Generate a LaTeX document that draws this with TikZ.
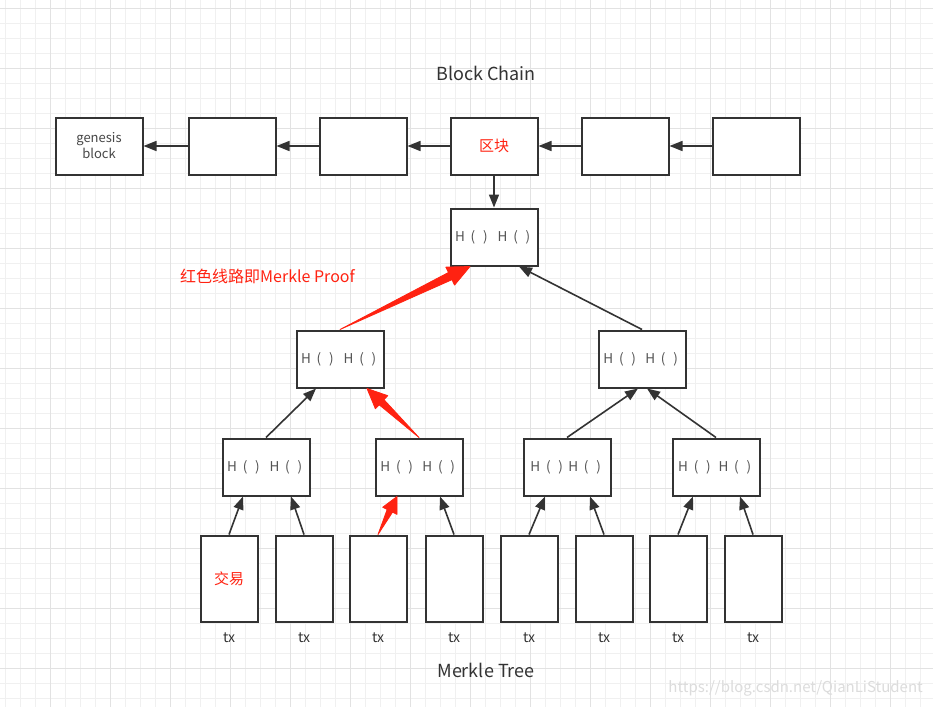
\documentclass[tikz,border=0pt]{standalone}
\usepackage{fontspec}
\setmainfont{Noto Sans CJK SC}
\usetikzlibrary{arrows.meta,calc}
\definecolor{dk}{HTML}{333333}
\definecolor{txtg}{HTML}{555555}
\definecolor{rd}{HTML}{FF2211}
\definecolor{gmin}{HTML}{F0F0F0}
\definecolor{gmaj}{HTML}{E2E2E2}
\definecolor{wmc}{HTML}{DCDCDC}
\newcommand{\redarr}[5]{%
  \path (#2) coordinate (rtip) ($(rtip)!#3!(#1)$) coordinate (rbase);
  \filldraw[rd,line width=0.8pt,line join=round] (#1) -- ($(rbase)!#5!90:(rtip)$) -- ($(rbase)!#4!90:(rtip)$) -- (rtip) -- ($(rbase)!#4!-90:(rtip)$) -- ($(rbase)!#5!-90:(rtip)$) -- cycle;}
\newcommand{\zc}[1]{\makebox[0pt][c]{#1}}
\newcommand{\hh}[1]{\zc{H}\hspace{13pt}\zc{(}\hspace{12.3pt}\zc{)}\hspace{#1}\zc{H}\hspace{13pt}\zc{(}\hspace{12.4pt}\zc{)}}
\begin{document}
\begin{tikzpicture}[x=1pt,y=-1pt,
  box/.style={draw=dk,line width=2pt,fill=white,minimum width=87pt,minimum height=57pt,inner sep=0pt,text=txtg,font=\fontsize{13.5}{16}\selectfont},
  txbox/.style={draw=dk,line width=2pt,fill=white,minimum width=57pt,minimum height=86pt,inner sep=0pt},
  arr/.style={draw=dk,line width=1.6pt,-{Triangle[length=13pt,width=10pt]}},
  redtxt/.style={text=rd,font=\fontsize{15}{17}\selectfont},
  txlbl/.style={text=dk,inner sep=0pt,font=\fontsize{14}{16}\selectfont},
  gridminor/.style={draw=gmin,line width=1pt},
  gridmajor/.style={draw=gmaj,line width=1pt}]
\useasboundingbox (0,0) rectangle (933,707);
\fill[white] (0,0) rectangle (933,707);
% grid
\foreach \i in {0,...,62} \draw[gridminor] ({5+15*\i},0) -- ({5+15*\i},707);
\foreach \i in {0,...,46} \draw[gridminor] (0,{8.3+15*\i}) -- (933,{8.3+15*\i});
\foreach \i in {0,...,14} \draw[gridmajor] ({50+60*\i},0) -- ({50+60*\i},707);
\foreach \i in {0,...,11} \draw[gridmajor] (0,{8.3+60*\i}) -- (933,{8.3+60*\i});
% titles
\node[text=dk,font=\fontsize{18}{20}\selectfont] (title) at (486,73) {Block Chain};
\node[text=dk,font=\fontsize{18}{20}\selectfont] (mtitle) at (486,670) {Merkle Tree};
\node[text=rd,font=\fontsize{16}{18}\selectfont,anchor=west,inner sep=0pt] (proof) at (180,276) {红色线路即Merkle Proof};
\node[text=wmc,font=\fontsize{15}{17}\selectfont,anchor=east,inner sep=0pt] (wm) at (923,688) {https://blog.csdn.net/QianLiStudent};
% chain
\node[box,align=center,text=dk!90,font=\fontsize{13}{16}\selectfont] (b1) at (99,146) {genesis\\block};
\node[box] (b2) at (232,146) {};
\node[box] (b3) at (363,146) {};
\node[box,redtxt] (b4) at (494,146) {区块};
\node[box] (b5) at (625,146) {};
\node[box] (b6) at (756,146) {};
\draw[arr] (b2) -- (b1);
\draw[arr] (b3) -- (b2);
\draw[arr] (b4) -- (b3);
\draw[arr] (b5) -- (b4);
\draw[arr] (b6) -- (b5);
% merkle tree
\node[box] (root) at (494,237) {\hh{17.3pt}};
\node[box] (l2a) at (340,359) {\hh{17.3pt}};
\node[box] (l2b) at (642,359) {\hh{16.5pt}};
\node[box] (l3a) at (266,467) {\hh{17pt}};
\node[box] (l3b) at (419,467) {\hh{16.7pt}};
\node[box] (l3c) at (567,467) {\hh{12.5pt}};
\node[box] (l3d) at (716,467) {\hh{15pt}};
\node[txbox,redtxt] (t1) at (229,578.5) {交易};
\node[txbox] (t2) at (304,578.5) {};
\node[txbox] (t3) at (378,578.5) {};
\node[txbox] (t4) at (454,578.5) {};
\node[txbox] (t5) at (529,578.5) {};
\node[txbox] (t6) at (604,578.5) {};
\node[txbox] (t7) at (678,578.5) {};
\node[txbox] (t8) at (753,578.5) {};
\foreach \t in {1,...,8} \node[txlbl] (lb\t) at ($(t\t.south)+(0,15)$) {tx};
\draw[arr] (b4) -- (root);
% level 2 -> root
\coordinate (rt1) at ($(root.south)+(-24,0)$);
\redarr{l2a.north}{rt1}{22pt}{10pt}{4pt}
\draw[arr] (l2b.north) -- ($(root.south)+(25,0)$);
% level 3 -> level 2
\draw[arr] (l3a.north) -- ($(l2a.south)+(-24,0)$);
\coordinate (rt2) at ($(l2a.south)+(27,0)$);
\redarr{l3b.north}{rt2}{20pt}{9pt}{3.5pt}
\draw[arr] (l3c.north) -- ($(l2b.south)+(-4,0)$);
\draw[arr] (l3d.north) -- ($(l2b.south)+(5,0)$);
% tx -> level 3
\draw[arr] (t1.north) -- ($(l3a.south)+(-23,0)$);
\draw[arr] (t2.north) -- ($(l3a.south)+(25,0)$);
\coordinate (rt3) at ($(l3b.south)+(-22,0)$);
\redarr{t3.north}{rt3}{16pt}{8pt}{3pt}
\draw[arr] (t4.north) -- ($(l3b.south)+(21,0)$);
\draw[arr] (t5.north) -- ($(l3c.south)+(-22,0)$);
\draw[arr] (t6.north) -- ($(l3c.south)+(23,0)$);
\draw[arr] (t7.north) -- ($(l3d.south)+(-23,0)$);
\draw[arr] (t8.north) -- ($(l3d.south)+(24,0)$);
\end{tikzpicture}
\end{document}
